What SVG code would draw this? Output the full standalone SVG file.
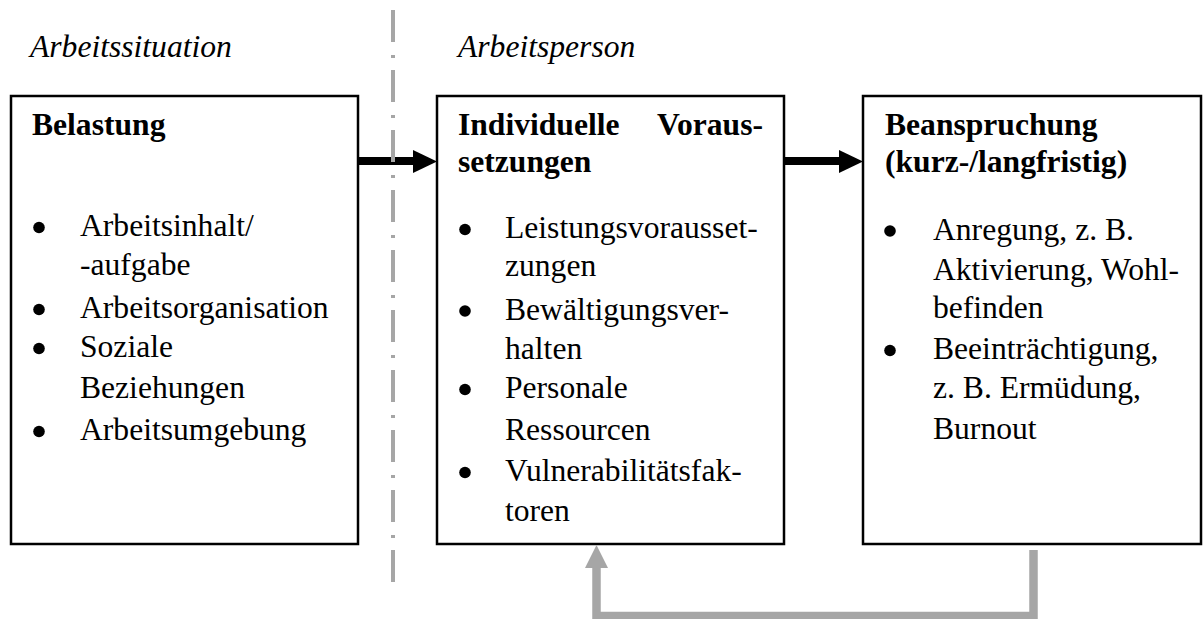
<svg xmlns="http://www.w3.org/2000/svg" width="1203" height="619" viewBox="0 0 1203 619">
  <style>
    text { font-family: "Liberation Serif", "Times New Roman", serif; font-size: 31.6px; fill: #000; }
    .title { font-style: italic; }
    .head { font-weight: bold; }
    .box { fill: #fff; stroke: #000; stroke-width: 2.5; }
    .dot { fill: #000; }
    .flow { stroke: #000; stroke-width: 8; fill: none; }
    .feedback { stroke: #a6a6a6; stroke-width: 8.5; fill: none; }
    .divider { stroke: #a6a6a6; stroke-width: 4; stroke-dasharray: 32 13 3 12; fill: none; }
  </style>

  <!-- column captions -->
  <text class="title" x="30" y="57">Arbeitssituation</text>
  <text class="title" x="458" y="57">Arbeitsperson</text>

  <!-- Belastung -->
  <g id="belastung">
    <rect class="box" x="11" y="96" width="347" height="448"/>
    <text class="head" x="32" y="135">Belastung</text>
    <circle class="dot" cx="39" cy="227.5" r="5.8"/>
    <text x="80" y="236">Arbeitsinhalt/</text>
    <text x="80" y="275">-aufgabe</text>
    <circle class="dot" cx="39" cy="309.5" r="5.8"/>
    <text x="80" y="318">Arbeitsorganisation</text>
    <circle class="dot" cx="39" cy="348.5" r="5.8"/>
    <text x="80" y="357">Soziale</text>
    <text x="80" y="398">Beziehungen</text>
    <circle class="dot" cx="39" cy="431.5" r="5.8"/>
    <text x="80" y="440">Arbeitsumgebung</text>
  </g>

  <!-- Individuelle Voraussetzungen -->
  <g id="voraussetzungen">
    <rect class="box" x="437" y="96" width="347" height="448"/>
    <text class="head" x="458" y="135">Individuelle</text>
    <text class="head" x="763" y="135" text-anchor="end">Voraus-</text>
    <text class="head" x="458" y="172">setzungen</text>
    <circle class="dot" cx="465" cy="229.5" r="5.8"/>
    <text x="505" y="238">Leistungsvorausset-</text>
    <text x="505" y="276">zungen</text>
    <circle class="dot" cx="465" cy="311" r="5.8"/>
    <text x="505" y="319.5">Bewältigungsver-</text>
    <text x="505" y="359">halten</text>
    <circle class="dot" cx="465" cy="389.5" r="5.8"/>
    <text x="505" y="398">Personale</text>
    <text x="505" y="440">Ressourcen</text>
    <circle class="dot" cx="465" cy="472.5" r="5.8"/>
    <text x="505" y="481">Vulnerabilitätsfak-</text>
    <text x="505" y="521">toren</text>
  </g>

  <!-- Beanspruchung -->
  <g id="beanspruchung">
    <rect class="box" x="863" y="96" width="338" height="448"/>
    <text class="head" x="885" y="135">Beanspruchung</text>
    <text class="head" x="885" y="172">(kurz-/langfristig)</text>
    <circle class="dot" cx="890" cy="231" r="5.8"/>
    <text x="933" y="240">Anregung, z. B.</text>
    <text x="933" y="280">Aktivierung, Wohl-</text>
    <text x="933" y="318">befinden</text>
    <circle class="dot" cx="890" cy="350.5" r="5.8"/>
    <text x="933" y="359">Beeinträchtigung,</text>
    <text x="933" y="398">z. B. Ermüdung,</text>
    <text x="933" y="439">Burnout</text>
  </g>

  <!-- connectors -->
  <g id="connectors">
    <!-- Belastung to Voraussetzungen -->
    <line class="flow" x1="358" y1="161" x2="415" y2="161"/>
    <polygon points="413,150 437,161.5 413,173" fill="#000"/>
    <!-- Voraussetzungen to Beanspruchung -->
    <line class="flow" x1="784" y1="161" x2="841" y2="161"/>
    <polygon points="839,150 863,161.5 839,173" fill="#000"/>
    <!-- feedback loop -->
    <polyline class="feedback" points="1033.5,550 1033.5,616 596.5,616 596.5,566"/>
    <polygon points="585,568 596.5,545 608,568" fill="#a6a6a6"/>
  </g>

  <!-- situation / person divider -->
  <line class="divider" x1="393" y1="10" x2="393" y2="582"/>
</svg>
